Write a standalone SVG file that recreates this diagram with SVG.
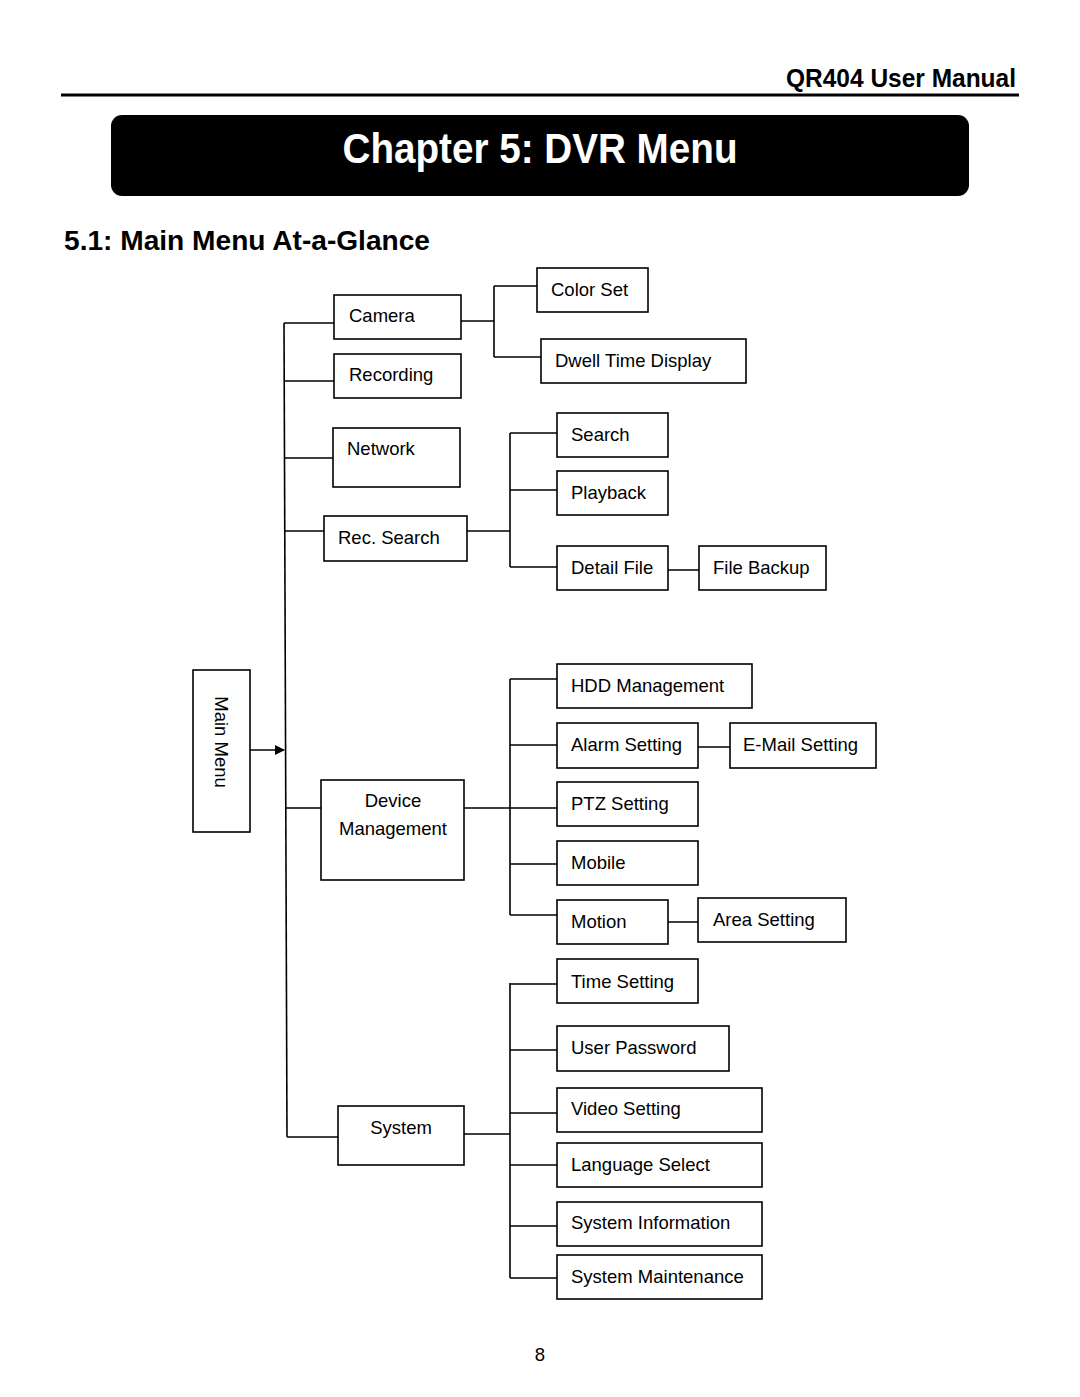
<svg xmlns="http://www.w3.org/2000/svg" width="1080" height="1397" viewBox="0 0 1080 1397">
<defs>
<style>
.box{fill:#fff;stroke:#000;stroke-width:1.6}
.lbl{font-family:"Liberation Sans",Arial,sans-serif;font-size:18.5px;fill:#000}
.conn{fill:none;stroke:#000;stroke-width:1.6}
.hdr{font-family:"Liberation Sans",Arial,sans-serif;font-weight:bold}
</style>
<marker id="arr" viewBox="0 0 10 10" refX="9" refY="5" markerWidth="10" markerHeight="10" markerUnits="userSpaceOnUse" orient="auto">
<path d="M0,0 L10,5 L0,10 z" fill="#000"/>
</marker>
</defs>
<rect width="1080" height="1397" fill="#fff"/>
<g id="header">
<text class="hdr" x="1016" y="87" font-size="25" text-anchor="end" textLength="230" lengthAdjust="spacingAndGlyphs">QR404 User Manual</text>
<line x1="61" y1="95" x2="1019" y2="95" stroke="#000" stroke-width="3"/>
<rect x="111" y="115" width="858" height="81" rx="11" fill="#000"/>
<text class="hdr" x="540" y="163" font-size="42" fill="#fff" text-anchor="middle" textLength="395" lengthAdjust="spacingAndGlyphs">Chapter 5: DVR Menu</text>
<text class="hdr" x="64" y="250" font-size="28" textLength="366" lengthAdjust="spacingAndGlyphs">5.1: Main Menu At-a-Glance</text>
</g>
<g id="connectors">
<line class="conn" x1="250" y1="750" x2="284" y2="750" marker-end="url(#arr)"/>
<path class="conn" d="M284,323 L287,1137"/>
<path class="conn" d="M284,323 H334 M285,381 H336 M285,458 H333 M285,531 H324 M286,808 H321 M287,1137 H338"/>
<path class="conn" d="M461,321 H494 M494,286 V357 M494,286 H537 M494,357 H541"/>
<path class="conn" d="M467,531 H510 M510,433 V567 M510,433 H557 M510,490 H557 M510,567 H557 M668,570 H699"/>
<path class="conn" d="M464,808 H557 M510,679 V915 M510,679 H557 M510,745 H557 M510,864 H557 M510,915 H557 M698,747 H730 M668,922 H698"/>
<path class="conn" d="M464,1134 H510 M510,983 V1278 M510,984 H557 M510,1050 H557 M510,1113 H557 M510,1165 H557 M510,1226 H557 M510,1278 H557"/>
</g>
<g id="main-menu"><rect class="box" x="193" y="670" width="57" height="162"/><text class="lbl" transform="translate(221,742) rotate(90)" x="0" y="6" text-anchor="middle">Main Menu</text></g>
<g id="camera"><rect class="box" x="334" y="295" width="127" height="44"/><text class="lbl" x="349" y="322">Camera</text></g>
<g id="recording"><rect class="box" x="334" y="354" width="127" height="44"/><text class="lbl" x="349" y="381">Recording</text></g>
<g id="network"><rect class="box" x="333" y="428" width="127" height="59"/><text class="lbl" x="347" y="455">Network</text></g>
<g id="rec-search"><rect class="box" x="324" y="516" width="143" height="45"/><text class="lbl" x="338" y="544">Rec. Search</text></g>
<g id="device-management"><rect class="box" x="321" y="780" width="143" height="100"/><text class="lbl" x="393" y="807" text-anchor="middle">Device</text><text class="lbl" x="393" y="835" text-anchor="middle">Management</text></g>
<g id="system"><rect class="box" x="338" y="1106" width="126" height="59"/><text class="lbl" x="401" y="1134" text-anchor="middle">System</text></g>
<g id="color-set"><rect class="box" x="537" y="268" width="111" height="44"/><text class="lbl" x="551" y="296">Color Set</text></g>
<g id="dwell-time-display"><rect class="box" x="541" y="339" width="205" height="44"/><text class="lbl" x="555" y="367">Dwell Time Display</text></g>
<g id="search"><rect class="box" x="557" y="413" width="111" height="44"/><text class="lbl" x="571" y="441">Search</text></g>
<g id="playback"><rect class="box" x="557" y="471" width="111" height="44"/><text class="lbl" x="571" y="499">Playback</text></g>
<g id="detail-file"><rect class="box" x="557" y="546" width="111" height="44"/><text class="lbl" x="571" y="574">Detail File</text></g>
<g id="file-backup"><rect class="box" x="699" y="546" width="127" height="44"/><text class="lbl" x="713" y="574">File Backup</text></g>
<g id="hdd-management"><rect class="box" x="557" y="664" width="195" height="44"/><text class="lbl" x="571" y="692">HDD Management</text></g>
<g id="alarm-setting"><rect class="box" x="557" y="723" width="141" height="45"/><text class="lbl" x="571" y="751">Alarm Setting</text></g>
<g id="email-setting"><rect class="box" x="730" y="723" width="146" height="45"/><text class="lbl" x="743" y="751">E-Mail Setting</text></g>
<g id="ptz-setting"><rect class="box" x="557" y="782" width="141" height="44"/><text class="lbl" x="571" y="810">PTZ Setting</text></g>
<g id="mobile"><rect class="box" x="557" y="841" width="141" height="44"/><text class="lbl" x="571" y="869">Mobile</text></g>
<g id="motion"><rect class="box" x="557" y="900" width="111" height="44"/><text class="lbl" x="571" y="928">Motion</text></g>
<g id="area-setting"><rect class="box" x="698" y="898" width="148" height="44"/><text class="lbl" x="713" y="926">Area Setting</text></g>
<g id="time-setting"><rect class="box" x="557" y="959" width="141" height="44"/><text class="lbl" x="571" y="988">Time Setting</text></g>
<g id="user-password"><rect class="box" x="557" y="1026" width="172" height="45"/><text class="lbl" x="571" y="1054">User Password</text></g>
<g id="video-setting"><rect class="box" x="557" y="1088" width="205" height="44"/><text class="lbl" x="571" y="1115">Video Setting</text></g>
<g id="language-select"><rect class="box" x="557" y="1143" width="205" height="44"/><text class="lbl" x="571" y="1171">Language Select</text></g>
<g id="system-information"><rect class="box" x="557" y="1202" width="205" height="44"/><text class="lbl" x="571" y="1229">System Information</text></g>
<g id="system-maintenance"><rect class="box" x="557" y="1255" width="205" height="44"/><text class="lbl" x="571" y="1283">System Maintenance</text></g>
<text class="lbl" x="540" y="1361" font-size="20" text-anchor="middle">8</text>
</svg>
